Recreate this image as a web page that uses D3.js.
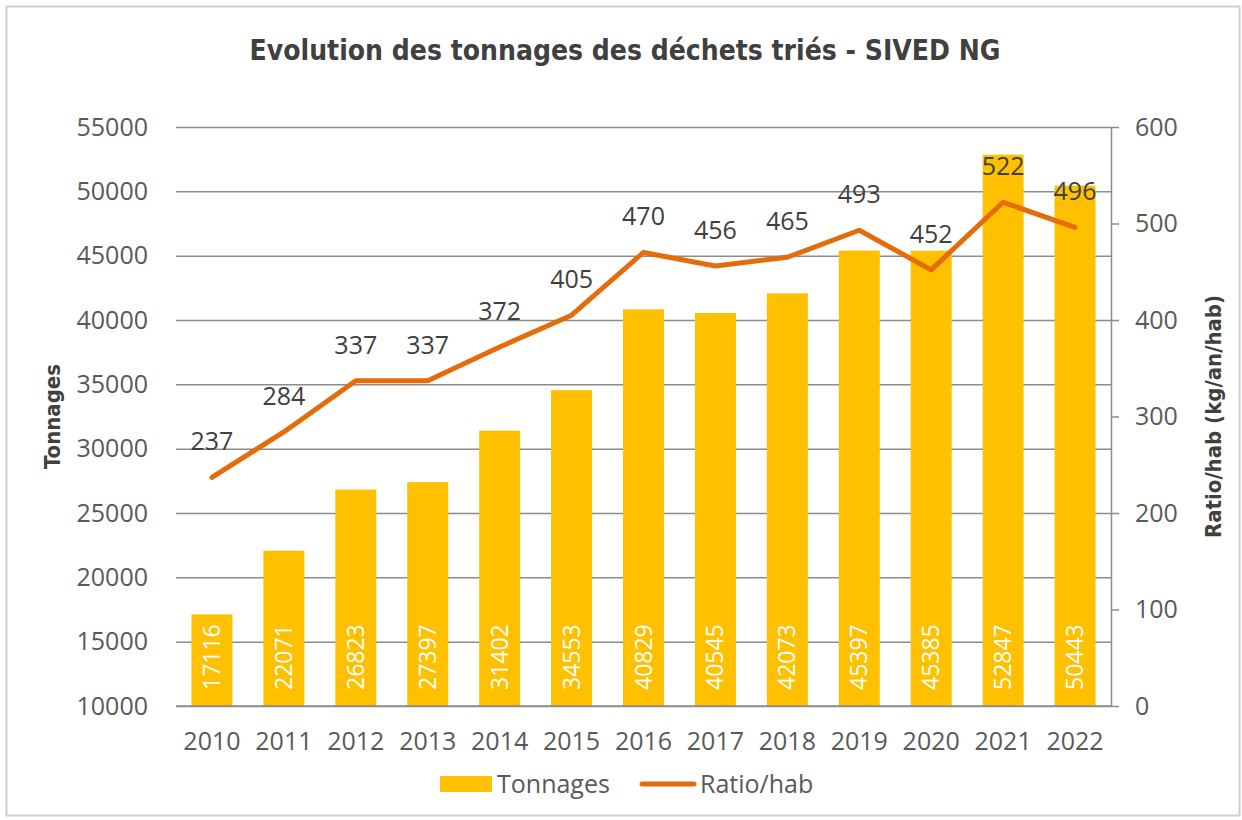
<!DOCTYPE html>
<html>
<head>
<meta charset="utf-8">
<script src="https://cdn.jsdelivr.net/npm/d3@7"></script>
<style>
  body { margin: 0; background: #fff; }
  text { font-family: "Open Sans", "Noto Sans", sans-serif; }
</style>
</head>
<body>
<div class="c-chart"></div>
<script>
var years = ["2010", "2011", "2012", "2013", "2014", "2015", "2016", "2017", "2018", "2019", "2020", "2021", "2022"];
var tonnages = [17116, 22071, 26823, 27397, 31402, 34553, 40829, 40545, 42073, 45397, 45385, 52847, 50443];
var ratios = [237, 284, 337, 337, 372, 405, 470, 456, 465, 493, 452, 522, 496];
var leftTicks = [10000, 15000, 20000, 25000, 30000, 35000, 40000, 45000, 50000, 55000];
var rightTicks = [0, 100, 200, 300, 400, 500, 600];

var W = 1242, H = 820;
var margin = { top: 127, right: 131, bottom: 114, left: 176 };
var width = W - margin.left - margin.right;
var height = H - margin.top - margin.bottom;

var gold = "#FFC000", orange = "#E46C0A", txt = "#595959", grid = "#8c8c8c";

var svg = d3.select(".c-chart").append("svg")
    .attr("width", W).attr("height", H);

// frame
svg.append("rect")
    .attr("x", 6.5).attr("y", 6.5)
    .attr("width", W - 9).attr("height", H - 11)
    .attr("fill", "none").attr("stroke", "#cfcfcf").attr("stroke-width", 2);

svg.append("text")
    .attr("x", W / 2 + 4).attr("y", 60)
    .attr("text-anchor", "middle")
    .attr("font-size", 28).attr("font-weight", "bold")
    .attr("fill", "#404040")
    .style("font-family", "'DejaVu Sans Condensed', 'Open Sans', sans-serif")
    .text("Evolution des tonnages des déchets triés - SIVED NG");

var g = svg.append("g")
    .attr("transform", "translate(" + margin.left + "," + margin.top + ")");

var x = d3.scaleBand().domain(years).range([0, width]).paddingInner(0.43).paddingOuter(0.215);
var yL = d3.scaleLinear().domain([10000, 55000]).range([height, 0]);
var yR = d3.scaleLinear().domain([0, 600]).range([height, 0]);

// gridlines
g.append("g")
    .call(d3.axisLeft(yL).tickValues(leftTicks).tickSize(-width).tickFormat(""))
    .call(function (s) {
        s.select(".domain").remove();
        s.selectAll("line").attr("stroke", grid).attr("stroke-width", 1.5);
    });

// left labels
g.append("g")
    .call(d3.axisLeft(yL).tickValues(leftTicks).tickSize(0).tickPadding(28).tickFormat(d3.format("d")))
    .call(function (s) {
        s.select(".domain").remove();
        s.selectAll("text").attr("font-size", 25).attr("fill", txt);
    });

// right axis
g.append("g")
    .attr("transform", "translate(" + width + ",0)")
    .call(d3.axisRight(yR).tickValues(rightTicks).tickSize(8).tickPadding(16).tickSizeOuter(0))
    .call(function (s) {
        s.select(".domain").attr("stroke", grid).attr("stroke-width", 1.5);
        s.selectAll("line").attr("stroke", grid).attr("stroke-width", 1.5);
        s.selectAll("text").attr("font-size", 25).attr("fill", txt);
    });

// bars
g.selectAll(".c-bar").data(tonnages).enter().append("rect")
    .attr("class", "c-bar")
    .attr("x", function (d, i) { return x(years[i]); })
    .attr("y", function (d) { return yL(d); })
    .attr("width", x.bandwidth())
    .attr("height", function (d) { return height - yL(d); })
    .attr("fill", gold);

// bottom baseline
g.append("line")
    .attr("x1", 0).attr("x2", width)
    .attr("y1", height).attr("y2", height)
    .attr("stroke", grid).attr("stroke-width", 1.5);

// bar labels
g.selectAll(".c-bar-label").data(tonnages).enter().append("text")
    .attr("class", "c-bar-label")
    .attr("transform", function (d, i) {
        return "translate(" + (x(years[i]) + x.bandwidth() / 2 + 8) + "," + (height - 16) + ") rotate(-90)";
    })
    .attr("font-size", 23).attr("fill", "#fff")
    .text(function (d) { return d; });

// x labels
g.append("g")
    .attr("transform", "translate(0," + height + ")")
    .call(d3.axisBottom(x).tickSize(0).tickPadding(26))
    .call(function (s) {
        s.select(".domain").remove();
        s.selectAll("text").attr("font-size", 25).attr("fill", txt);
    });

// line
var line = d3.line()
    .x(function (d, i) { return x(years[i]) + x.bandwidth() / 2; })
    .y(function (d) { return yR(d); });

g.append("path")
    .datum(ratios)
    .attr("d", line)
    .attr("fill", "none").attr("stroke", orange)
    .attr("stroke-width", 5).attr("stroke-linejoin", "round").attr("stroke-linecap", "round");

g.selectAll(".c-line-label").data(ratios).enter().append("text")
    .attr("class", "c-line-label")
    .attr("x", function (d, i) { return x(years[i]) + x.bandwidth() / 2; })
    .attr("y", function (d) { return yR(d) - 27; })
    .attr("text-anchor", "middle")
    .attr("font-size", 25).attr("fill", "#404040")
    .text(function (d) { return d; });

// axis titles
svg.append("text")
    .attr("transform", "translate(60," + (margin.top + height / 2) + ") rotate(-90)")
    .attr("text-anchor", "middle")
    .attr("font-size", 22).attr("font-weight", "bold").attr("fill", "#404040")
    .style("font-family", "'DejaVu Sans Condensed', sans-serif")
    .text("Tonnages");

svg.append("text")
    .attr("transform", "translate(1221," + (margin.top + height / 2) + ") rotate(-90)")
    .attr("text-anchor", "middle")
    .attr("font-size", 22).attr("font-weight", "bold").attr("fill", "#404040")
    .style("font-family", "'DejaVu Sans Condensed', sans-serif")
    .text("Ratio/hab (kg/an/hab)");

// legend
var lg = svg.append("g").attr("transform", "translate(440,784)");
lg.append("rect").attr("x", 0).attr("y", -8).attr("width", 52).attr("height", 16).attr("fill", gold);
lg.append("text").attr("x", 57).attr("y", 9).attr("font-size", 25).attr("fill", txt).text("Tonnages");
lg.append("line").attr("x1", 202).attr("x2", 254).attr("y1", 0).attr("y2", 0)
    .attr("stroke", orange).attr("stroke-width", 5).attr("stroke-linecap", "round");
lg.append("text").attr("x", 260).attr("y", 9).attr("font-size", 25).attr("fill", txt).text("Ratio/hab");
</script>
</body>
</html>
